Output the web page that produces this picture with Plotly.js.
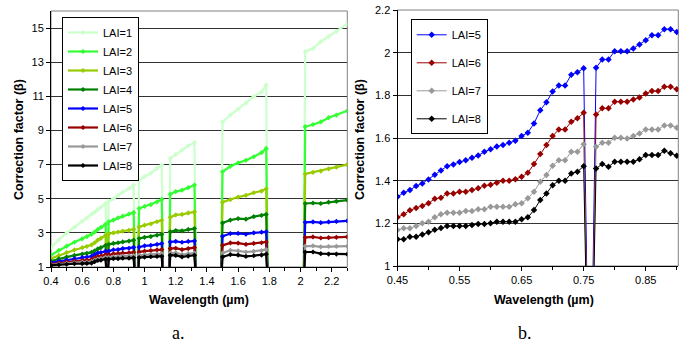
<!DOCTYPE html>
<html>
<head>
<meta charset="utf-8">
<script src="https://cdn.plot.ly/plotly-3.0.1.min.js"></script>
<style>html,body{margin:0;padding:0;background:#fff;}#chart{width:688px;height:350px;}</style>
</head>
<body>
<div id="chart"></div>
<script>
// ---- Panel a: full spectrum (0 = absorption-band gap, off scale) ----
const xLeft = [0.40,0.45,0.50,0.55,0.60,0.63,0.66,0.68,0.70,0.72,0.75, 0.76,
  0.77,0.80,0.83,0.86,0.90,0.93, 0.94,0.955,
  0.965,1.00,1.04,1.08,1.11, 1.12,1.155,
  1.165,1.20,1.24,1.28,1.32, 1.33,1.49,
  1.50,1.55,1.60,1.65,1.70,1.75,1.78, 1.79,2.02,
  2.03,2.08,2.13,2.18,2.23,2.30];

const lai1 = [2.15,2.6,2.98,3.33,3.68,3.88,4.08,4.22,4.36,4.5,4.72, 0,
  4.85,5.0,5.2,5.38,5.6,5.8, 0,0,
  6.1,6.3,6.5,6.78,6.97, 0,0,
  7.36,7.6,7.85,8.1,8.3, 0,0,
  9.5,9.9,10.25,10.6,10.98,11.25,11.67, 0,0,
  13.62,13.8,14.2,14.5,14.8,15.25];
const lai2 = [1.7,1.98,2.22,2.45,2.65,2.78,2.92,3.05,3.2,3.32,3.5, 0,
  3.65,3.75,3.88,3.98,4.1,4.2, 0,0,
  4.43,4.55,4.65,4.82,4.96, 0,0,
  5.27,5.42,5.5,5.65,5.8, 0,0,
  6.58,6.9,7.1,7.25,7.46,7.7,7.95, 0,0,
  9.22,9.35,9.5,9.75,9.9,10.15];
const lai3 = [1.5,1.68,1.85,2.0,2.13,2.2,2.3,2.42,2.58,2.68,2.86, 0,
  2.95,3.0,3.05,3.1,3.15,3.21, 0,0,
  3.35,3.45,3.52,3.65,3.74, 0,0,
  3.92,4.05,4.08,4.17,4.23, 0,0,
  4.8,4.95,5.1,5.2,5.35,5.45,5.58, 0,0,
  6.45,6.55,6.62,6.75,6.85,7.0];
const lai4 = [1.35,1.48,1.58,1.68,1.76,1.8,1.86,1.95,2.06,2.14,2.27, 0,
  2.33,2.38,2.42,2.47,2.52,2.57, 0,0,
  2.67,2.74,2.78,2.86,2.92, 0,0,
  3.06,3.14,3.12,3.2,3.25, 0,0,
  3.58,3.75,3.84,3.8,3.95,4.02,4.08, 0,0,
  4.72,4.75,4.72,4.8,4.85,4.92];
const lai5 = [1.25,1.33,1.41,1.49,1.55,1.58,1.63,1.73,1.82,1.85,1.93, 0,
  1.93,2.01,2.02,2.08,2.1,2.15, 0,0,
  2.17,2.24,2.27,2.32,2.37, 0,0,
  2.47,2.5,2.45,2.5,2.53, 0,0,
  2.8,2.96,2.97,2.92,3.0,3.04,3.06, 0,0,
  3.62,3.64,3.6,3.64,3.67,3.7];
const lai6 = [1.17,1.23,1.29,1.35,1.38,1.40,1.44,1.53,1.61,1.64,1.72, 0,
  1.71,1.77,1.78,1.82,1.83,1.86, 0,0,
  1.88,1.93,1.96,2.0,2.02, 0,0,
  2.08,2.1,2.02,2.08,2.14, 0,0,
  2.27,2.41,2.4,2.33,2.38,2.42,2.47, 0,0,
  2.73,2.76,2.7,2.72,2.74,2.76];
const lai7 = [1.12,1.17,1.21,1.25,1.28,1.28,1.32,1.40,1.47,1.50,1.57, 0,
  1.56,1.60,1.61,1.64,1.65,1.67, 0,0,
  1.69,1.72,1.74,1.76,1.78, 0,0,
  1.82,1.83,1.73,1.78,1.82, 0,0,
  1.82,1.98,1.95,1.88,1.92,1.96,2.02, 0,0,
  2.22,2.24,2.18,2.2,2.21,2.22];
const lai8 = [1.09,1.13,1.16,1.19,1.20,1.21,1.23,1.31,1.38,1.40,1.47, 0,
  1.46,1.49,1.49,1.52,1.52,1.54, 0,0,
  1.55,1.58,1.6,1.62,1.63, 0,0,
  1.69,1.68,1.59,1.64,1.69, 0,0,
  1.59,1.73,1.7,1.62,1.66,1.7,1.75, 0,0,
  1.88,1.88,1.78,1.76,1.76,1.75];

// ---- Panel b: 0.45-0.90 µm detail (0.76 = O2 band, off scale) ----
const xRight = [0.45,0.46,0.47,0.48,0.49,0.50,0.51,0.52,0.53,0.54,0.55,0.56,0.57,0.58,0.59,0.60,
  0.61,0.62,0.63,0.64,0.65,0.66,0.67,0.68,0.69,0.70,0.71,0.72,0.73,0.74,0.75,0.76,
  0.77,0.78,0.79,0.80,0.81,0.82,0.83,0.84,0.85,0.86,0.87,0.88,0.89,0.90];
const b5 = [1.325,1.343,1.356,1.375,1.387,1.406,1.428,1.448,1.468,1.476,1.487,1.496,1.507,1.518,1.535,1.547,
  1.56,1.567,1.578,1.587,1.609,1.625,1.668,1.73,1.768,1.818,1.846,1.846,1.897,1.908,1.927,0,
  1.929,1.968,1.968,2.007,2.007,2.007,2.02,2.038,2.058,2.082,2.082,2.11,2.11,2.097];
const b6 = [1.228,1.242,1.261,1.272,1.281,1.294,1.315,1.32,1.34,1.34,1.348,1.348,1.356,1.364,1.376,1.381,
  1.39,1.40,1.40,1.407,1.418,1.437,1.478,1.525,1.567,1.609,1.64,1.64,1.676,1.692,1.718,0,
  1.71,1.739,1.739,1.77,1.77,1.77,1.78,1.79,1.809,1.82,1.82,1.84,1.84,1.828];
const b7 = [1.169,1.177,1.177,1.187,1.20,1.208,1.228,1.242,1.25,1.25,1.25,1.258,1.258,1.266,1.266,1.278,
  1.278,1.278,1.278,1.289,1.294,1.317,1.348,1.395,1.426,1.47,1.496,1.496,1.535,1.535,1.571,0,
  1.559,1.578,1.578,1.601,1.601,1.598,1.609,1.621,1.64,1.64,1.64,1.659,1.659,1.648];
const b8 = [1.125,1.125,1.137,1.137,1.148,1.158,1.17,1.178,1.187,1.187,1.187,1.187,1.192,1.197,1.197,1.20,
  1.208,1.208,1.208,1.208,1.219,1.228,1.262,1.309,1.34,1.379,1.40,1.40,1.434,1.442,1.468,0,
  1.457,1.478,1.465,1.489,1.489,1.489,1.489,1.50,1.52,1.52,1.52,1.54,1.528,1.517];

const leftNames = ['LAI=1','LAI=2','LAI=3','LAI=4','LAI=5','LAI=6','LAI=7','LAI=8'];
const rightNames = ['LAI=5','LAI=6','LAI=7','LAI=8'];
const xTitle = 'Wavelength (µm)';
const yTitle = 'Correction factor (β)';

// styles
const leftColors = ['#ccffcc','#33ff33','#99cc00','#008000','#0000ff','#990000','#999999','#000000'];
const rightColors = ['#0000ff','#990000','#999999','#000000'];
const FONT = 'Arial, "Liberation Sans", Helvetica, sans-serif';
const SERIF = '"Liberation Serif","Times New Roman",serif';

const leftSeries = [lai1,lai2,lai3,lai4,lai5,lai6,lai7,lai8];
const rightSeries = [b5,b6,b7,b8];

const traces = [];
leftSeries.forEach((ys,i)=>{
  traces.push({type:'scatter',mode:'lines+markers',x:xLeft,y:ys,name:leftNames[i],
    xaxis:'x',yaxis:'y',legend:'legend',
    line:{color:leftColors[i],width:2.2},
    marker:{symbol:'diamond',size:4,color:leftColors[i]}});
});
rightSeries.forEach((ys,i)=>{
  traces.push({type:'scatter',mode:'lines+markers',x:xRight,y:ys,name:rightNames[i],
    xaxis:'x2',yaxis:'y2',legend:'legend2',legendgroup:'g'+i,
    line:{color:rightColors[i],width:1},
    marker:{symbol:'diamond',size:5,color:rightColors[i]}});
});

const W=688,H=350;
const axCommon = {showline:true,linecolor:'#000',linewidth:1,ticks:'outside',ticklen:4,
  tickcolor:'#000',tickfont:{family:FONT,size:11,color:'#000'},zeroline:false};

function ann(text,px,py,opts){
  return Object.assign({text:text,xref:'paper',yref:'paper',x:px/W,y:1-py/H,
    xanchor:'center',yanchor:'middle',showarrow:false,font:{family:FONT,size:12.5,color:'#000'}},opts||{});
}

const layout = {
  width:W,height:H,margin:{l:0,r:0,t:0,b:0},
  paper_bgcolor:'#fff',plot_bgcolor:'#fff',
  font:{family:FONT,size:11,color:'#000'},
  xaxis:Object.assign({},axCommon,{domain:[51/W,347.3/W],range:[0.4,2.3],tick0:0.4,dtick:0.2,
    showgrid:false,anchor:'y',minor:{dtick:0.1,ticks:'outside',ticklen:3,tickcolor:'#000'}}),
  yaxis:Object.assign({},axCommon,{domain:[(H-267)/H,(H-11)/H],range:[1,16],tick0:1,dtick:2,
    showgrid:true,gridcolor:'#333',gridwidth:1,anchor:'x'}),
  xaxis2:Object.assign({},axCommon,{domain:[397.5/W,678.3/W],range:[0.45,0.9025],tick0:0.45,dtick:0.1,
    showgrid:false,anchor:'y2',minor:{dtick:0.05,ticks:'outside',ticklen:3,tickcolor:'#000'}}),
  yaxis2:Object.assign({},axCommon,{domain:[(H-266)/H,(H-10)/H],range:[1,2.2],tick0:1,dtick:0.2,
    showgrid:true,gridcolor:'#333',gridwidth:1,anchor:'x2'}),
  legend:{x:62/W,y:1-17/H,xanchor:'left',yanchor:'top',bgcolor:'#fff',bordercolor:'#000',borderwidth:1,
    font:{family:FONT,size:11,color:'#000'},itemwidth:30,traceorder:'normal'},
  legend2:{x:410.7/W,y:1-19.3/H,xanchor:'left',yanchor:'top',bgcolor:'#fff',bordercolor:'#000',borderwidth:1,
    font:{family:FONT,size:11,color:'#000'},itemwidth:30,tracegroupgap:9,traceorder:'grouped'},
  shapes:[
    {type:'rect',xref:'x domain',yref:'y domain',x0:0,x1:1,y0:0,y1:1,line:{color:'#808080',width:1},layer:'below'},
    {type:'rect',xref:'x2 domain',yref:'y2 domain',x0:0,x1:1,y0:0,y1:1,line:{color:'#808080',width:1},layer:'below'}
  ],
  annotations:[
    ann('<b>'+yTitle+'</b>',19,140,{textangle:-90}),
    ann('<b>'+yTitle+'</b>',360,140,{textangle:-90}),
    ann('<b>'+xTitle+'</b>',199,300),
    ann('<b>'+xTitle+'</b>',544,300),
    ann('a.',178,333,{font:{family:SERIF,size:18,color:'#000'}}),
    ann('b.',525,333,{font:{family:SERIF,size:18,color:'#000'}})
  ]
};

Plotly.newPlot('chart',traces,layout,{displayModeBar:false,staticPlot:true});
</script>
</body>
</html>
